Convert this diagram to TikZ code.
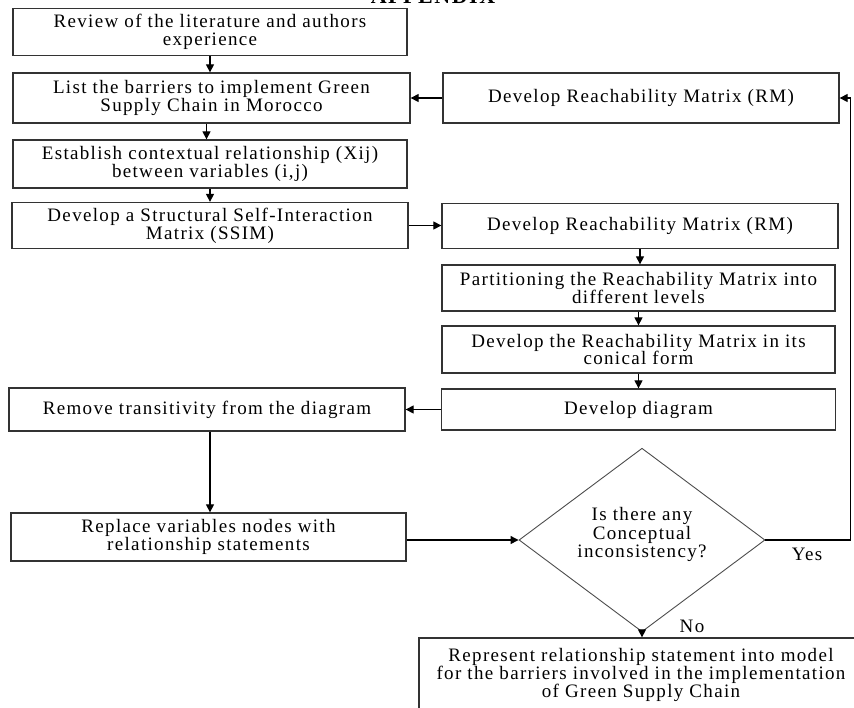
\documentclass[tikz,border=0pt]{standalone}
\usepackage{fontspec}
\newfontfamily\boxfont{Liberation Serif}[LetterSpace=7]
\usetikzlibrary{shapes.geometric,arrows.meta,calc}

\begin{document}
\begin{tikzpicture}[x=1pt,y=-1pt,
  box/.style={draw=black!80, line width=1.3pt, align=center, inner sep=1pt,
    font=\boxfont\fontsize{19}{17.8}\selectfont},
  decision/.style={diamond, draw=black!70, line width=0.9pt, align=center,
    inner sep=0pt, font=\boxfont\fontsize{19}{17.2}\selectfont},
  arr/.style={-{Triangle[length=8pt,width=8pt]}, line width=1.2pt},
  lbl/.style={font=\boxfont\fontsize{19}{17.8}\selectfont}]

\useasboundingbox (0,0) rectangle (854,707);
\clip (0,0) rectangle (854,707);

% heading, mostly above the page edge
\node[font=\boxfont\bfseries\fontsize{22}{22}\selectfont, anchor=base] (title) at (433,3.5) {APPENDIX};

% left column
\node[box, minimum width=394pt, minimum height=47pt] (b1) at (210,32)
  {Review of the literature and authors\\experience};
\node[box, minimum width=397pt, minimum height=50pt] (b2) at (211.5,98)
  {List the barriers to implement Green\\Supply Chain in Morocco};
\node[box, minimum width=394pt, minimum height=48pt] (b3) at (210,164)
  {Establish contextual relationship (Xij)\\between variables (i,j)};
\node[box, minimum width=396pt, minimum height=46pt] (b4) at (210,225.5)
  {Develop a Structural Self-Interaction\\Matrix (SSIM)};
\node[box, minimum width=396pt, minimum height=43pt] (b5) at (207,409.5)
  {Remove transitivity from the diagram};
\node[box, minimum width=395pt, minimum height=48pt] (b6) at (208.5,537)
  {Replace variables nodes with\\relationship statements};

% right column
\node[box, minimum width=396pt, minimum height=50pt] (r1) at (641,98)
  {Develop Reachability Matrix (RM)};
\node[box, minimum width=396pt, minimum height=45pt] (r2) at (640,226)
  {Develop Reachability Matrix (RM)};
\node[box, minimum width=393pt, minimum height=46pt] (r3) at (638.5,288)
  {Partitioning the Reachability Matrix into\\different levels};
\node[box, minimum width=393pt, minimum height=47pt] (r4) at (638.5,349.5)
  {Develop the Reachability Matrix in its\\conical form};
\node[box, minimum width=394pt, minimum height=41pt] (r5) at (638.5,409.5)
  {Develop diagram};

% decision and final step; the question sits a little above the centre
\node[decision, minimum width=246pt, minimum height=160pt] (dec) at (642,540)
  {\raisebox{5pt}[\height][\depth]{\begin{tabular}{@{}c@{}}Is there any\\Conceptual\\inconsistency?\end{tabular}}};
\node[box, minimum width=444pt, minimum height=74pt] (fin) at (641,675)
  {Represent relationship statement into model\\for the barriers involved in the implementation\\of Green Supply Chain};

% flow
\draw[arr] (b1.south) -- (b1.south |- b2.north);
\draw[arr] ([xshift=-5pt]b2.south) -- ([xshift=-5pt]b2.south |- b3.north);
\draw[arr] (b3.south) -- (b3.south |- b4.north);
\draw[arr] (b4.east) -- (b4.east -| r2.west);
\draw[arr] (r2.south) -- (r2.south |- r3.north);
\draw[arr] (r3.south) -- (r3.south |- r4.north);
\draw[arr] (r4.south) -- (r4.south |- r5.north);
\draw[arr] (r5.west) -- (r5.west -| b5.east);
\draw[arr] ([xshift=3pt]b5.south) -- ([xshift=3pt]b5.south |- b6.north);
\draw[arr] (dec.west -| b6.east) -- (dec.west);
\draw[arr] (dec.east) -- ++(85,0) |- (r1.east);
\draw[arr] (r1.west) -- (r1.west -| b2.east);
\draw[arr] (dec.south) -- (dec.south |- fin.north);

\node[lbl] (yes) at (807,554) {Yes};
\node[lbl] (no) at (692,626) {No};
\end{tikzpicture}
\end{document}
